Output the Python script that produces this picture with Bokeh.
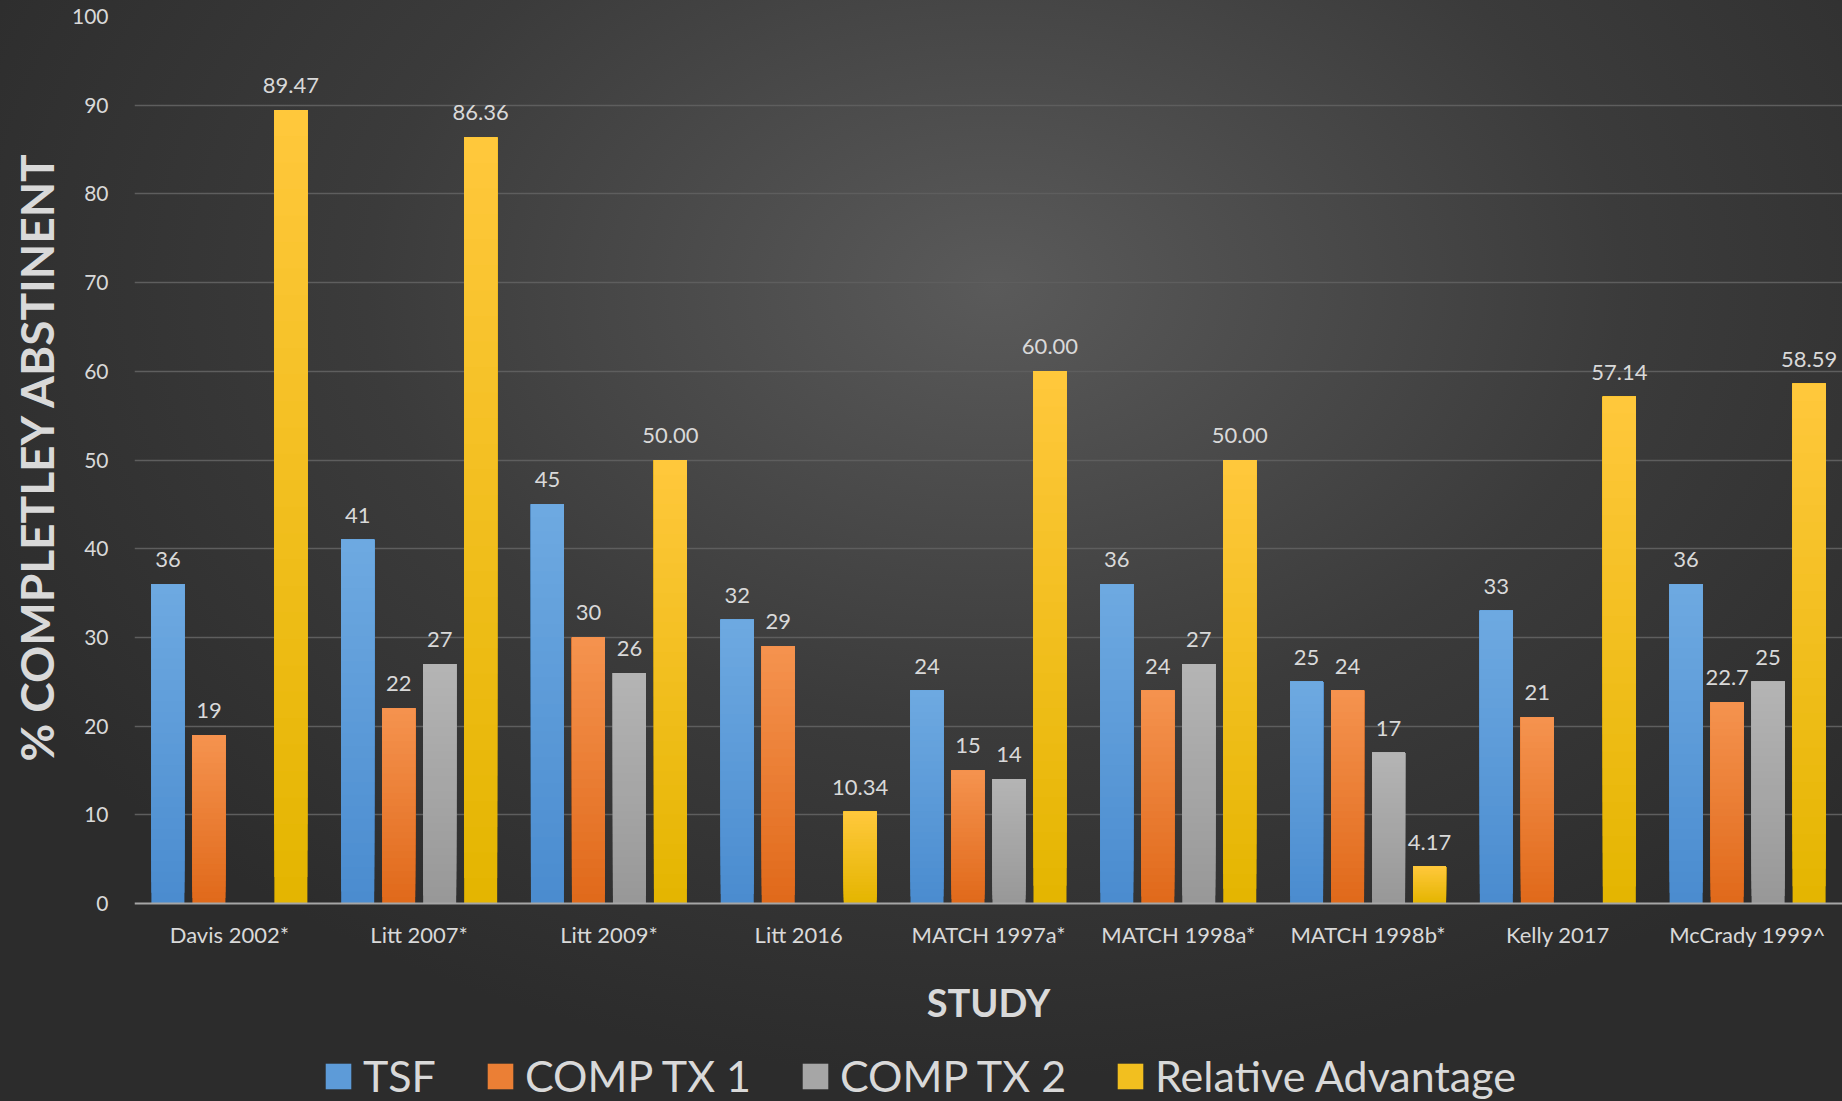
import numpy as np
from bokeh.plotting import figure
from bokeh.models import (Range1d, FixedTicker, Legend, LegendItem,
                          ColumnDataSource, LabelSet, Title)
from bokeh.core.properties import value
from bokeh.embed import file_html
from bokeh.resources import INLINE

# ---------------- data ----------------
studies = ["Davis 2002*", "Litt 2007*", "Litt 2009*", "Litt 2016",
           "MATCH 1997a*", "MATCH 1998a*", "MATCH 1998b*", "Kelly 2017",
           "McCrady 1999^"]
tsf = [36, 41, 45, 32, 24, 36, 25, 33, 36]
comp_tx1 = [19, 22, 30, 29, 15, 24, 24, 21, 22.7]
comp_tx2 = [None, 27, 26, None, 14, 27, 17, None, 25]
relative_advantage = [89.47, 86.36, 50.00, 10.34, 60.00, 50.00, 4.17, 57.14, 58.59]
series_names = ["TSF", "COMP TX 1", "COMP TX 2", "Relative Advantage"]
y_ticks = [0, 10, 20, 30, 40, 50, 60, 70, 80, 90, 100]

# ---------------- style ----------------
FONT = "Lato"
TXT = "#d9d9d9"
grad = [("#4a8bcf", "#6eaae1"),   # TSF
        ("#e0691a", "#f5934f"),   # COMP TX 1
        ("#989898", "#b4b4b4"),   # COMP TX 2
        ("#e4b500", "#ffc83c")]   # Relative Advantage
fmt = [lambda v: f"{v:g}", lambda v: f"{v:g}", lambda v: f"{v:g}",
       lambda v: f"{v:.2f}"]
PITCH = 0.216
BAR_W = 0.174
NSEG = 30


def hex2rgb(h):
    h = h.lstrip("#")
    return np.array([int(h[i:i + 2], 16) for i in (0, 2, 4)], float)


def mix(c0, c1, t):
    c = hex2rgb(c0) * (1 - t) + hex2rgb(c1) * t
    return "#%02x%02x%02x" % tuple(int(round(v)) for v in c)


W, H = 1842, 1101
TOP = 16
PX_PER_UNIT = (903 - TOP) / 100.0
y_min = -(H - 903) / PX_PER_UNIT

p = figure(width=W, height=H, output_backend="svg", toolbar_location=None,
           x_range=Range1d(0, 9), y_range=Range1d(y_min, 100),
           min_border_left=134, min_border_right=0, min_border_top=TOP,
           min_border_bottom=0)
p.background_fill_alpha = 0
p.border_fill_alpha = 0
p.outline_line_color = None
p.styles = {"background": "radial-gradient(ellipse 62% 72% at 54% 26%, #5a5a5a 0%, #3b3b3b 55%, #2c2c2c 100%)"}

series = [tsf, comp_tx1, comp_tx2, relative_advantage]
legend_items = []
for si, vals in enumerate(series):
    off = (si - 1.5) * PITCH
    xs, bots, tops, cols = [], [], [], []
    lx, ly, lt = [], [], []
    for j, v in enumerate(vals):
        if v is None:
            continue
        xc = j + 0.5 + off
        # overlapping segments (each reaches the bar top) -> seamless gradient
        for k in range(NSEG):
            xs.append(xc)
            bots.append(v * k / NSEG)
            tops.append(v)
            cols.append(mix(grad[si][0], grad[si][1], (k + 0.5) / NSEG))
        lx.append(xc)
        ly.append(v)
        lt.append(fmt[si](v))
    src = ColumnDataSource(dict(x=xs, bottom=bots, top=tops, color=cols))
    r = p.vbar(x="x", bottom="bottom", top="top", width=BAR_W, source=src,
               fill_color="color", line_color=None)
    legend_items.append(LegendItem(label=series_names[si], renderers=[r],
                                   index=NSEG // 2))
    lsrc = ColumnDataSource(dict(x=lx, y=ly, t=lt))
    p.add_layout(LabelSet(x="x", y="y", text="t", source=lsrc,
                          text_align="center", text_baseline="bottom",
                          y_offset=17, text_font=value(FONT),
                          text_font_size="22px", text_color=TXT))

# grid
p.xgrid.grid_line_color = None
p.ygrid.grid_line_color = "#5e5e5e"
p.ygrid.grid_line_width = 1.5
p.ygrid.ticker = FixedTicker(ticks=y_ticks[1:])

# y axis
p.yaxis.ticker = FixedTicker(ticks=y_ticks)
p.yaxis.axis_line_color = None
p.yaxis.major_tick_line_color = None
p.yaxis.minor_tick_line_color = None
p.yaxis.major_label_standoff = 20
p.yaxis.major_label_text_font = FONT
p.yaxis.major_label_text_font_size = "21px"
p.yaxis.major_label_text_color = TXT

# y-axis title, anchored at its lower end (761 px from top in the reference)
ytitle = Title(text="% COMPLETLEY ABSTINENT", align="left",
               offset=H - 761, standoff=9,
               text_font=FONT, text_font_style="bold", text_font_size="46px",
               text_color=TXT)
p.add_layout(ytitle, "left")

# x axis (drawn at y = 0 inside the frame)
centers = [j + 0.5 for j in range(len(studies))]
p.xaxis.fixed_location = 0
p.xaxis.ticker = FixedTicker(ticks=centers)
p.xaxis.major_label_overrides = {c: s for c, s in zip(centers, studies)}
p.xaxis.axis_line_color = "#a6a6a6"
p.xaxis.axis_line_width = 2
p.xaxis.major_tick_line_color = None
p.xaxis.minor_tick_line_color = None
p.xaxis.major_label_standoff = 11
p.xaxis.major_label_text_font = FONT
p.xaxis.major_label_text_font_size = "22px"
p.xaxis.major_label_text_color = TXT
p.xaxis.axis_label = "STUDY"
p.xaxis.axis_label_text_font = FONT
p.xaxis.axis_label_text_font_style = "bold"
p.xaxis.axis_label_text_font_size = "38px"
p.xaxis.axis_label_text_color = TXT
p.xaxis.axis_label_standoff = 28

legend = Legend(items=legend_items, orientation="horizontal",
                location=(188, 0), label_text_font=FONT,
                label_text_font_size="43px", label_text_color=TXT,
                glyph_width=32, glyph_height=32, label_standoff=9,
                spacing=48, padding=0, margin=0, border_line_color=None,
                background_fill_alpha=0, label_height=40)
p.add_layout(legend)

open("out.html", "w").write(file_html(p, INLINE))
